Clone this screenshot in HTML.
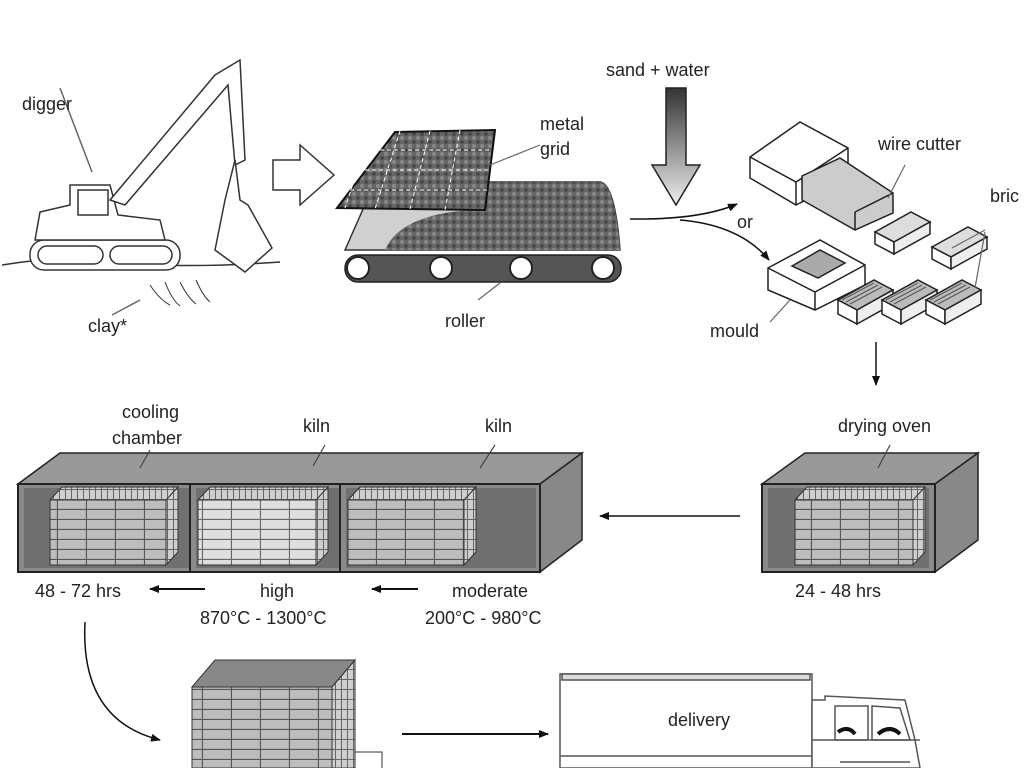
<!DOCTYPE html>
<html><head><meta charset="utf-8"><style>
html,body{margin:0;padding:0;background:#fff;}
svg{display:block;}
text{font-family:"Liberation Sans",sans-serif;font-size:18px;fill:#222;}
</style></head><body>
<svg width="1024" height="768" viewBox="0 0 1024 768" xmlns="http://www.w3.org/2000/svg">
<defs>
<pattern id="brk" width="29" height="10" patternUnits="userSpaceOnUse">
<rect width="29" height="10" fill="#bdbdbd"/><path d="M0 9.5H29M28.5 0V10" stroke="#555" stroke-width="1.2"/>
</pattern>
<pattern id="brkl" width="29" height="10" patternUnits="userSpaceOnUse">
<rect width="29" height="10" fill="#dedede"/><path d="M0 9.5H29M28.5 0V10" stroke="#666" stroke-width="1.2"/>
</pattern>
<pattern id="side" width="6" height="10" patternUnits="userSpaceOnUse">
<rect width="6" height="10" fill="#cfcfcf"/><path d="M0 9.5H6M5.5 0V10" stroke="#666" stroke-width="1"/>
</pattern>
<pattern id="gravel" width="8" height="8" patternUnits="userSpaceOnUse">
<rect width="8" height="8" fill="#666"/><circle cx="2" cy="2" r="2" fill="#888"/><circle cx="6" cy="6" r="1.8" fill="#444"/>
</pattern>
<linearGradient id="ag" x1="0" y1="0" x2="0" y2="1"><stop offset="0" stop-color="#333"/><stop offset="1" stop-color="#eee"/></linearGradient>
<marker id="ah" markerWidth="10" markerHeight="8" refX="9" refY="4" orient="auto" markerUnits="userSpaceOnUse"><path d="M0 0L10 4L0 8z" fill="#111"/></marker>
<g id="brick" stroke="#222" stroke-width="1.5">
<path d="M0 0 L36 -20 L55 -10 L19 10Z" fill="#ddd"/>
<path d="M0 0 L19 10 L19 22 L0 12Z" fill="#fff"/>
<path d="M19 10 L55 -10 L55 2 L19 22Z" fill="#eee"/>
</g>
<g id="mbrick" stroke="#222" stroke-width="1.5">
<path d="M0 0 L36 -20 L55 -10 L19 10Z" fill="#bbb"/>
<path d="M4 0 L36 -17 M8 2 L40 -15 M12 4 L44 -13" stroke="#555" stroke-width="1" fill="none"/>
<path d="M0 0 L19 10 L19 24 L0 14Z" fill="#fff"/>
<path d="M19 10 L55 -10 L55 4 L19 24Z" fill="#eee"/>
</g>
</defs>

<!-- excavator -->
<g fill="#fff" stroke="#333" stroke-width="1.5">
<path d="M2 265 Q60 255 120 262 T280 262" fill="none"/>
<rect x="30" y="240" width="150" height="30" rx="14"/>
<rect x="38" y="246" width="65" height="18" rx="9"/>
<rect x="110" y="246" width="62" height="18" rx="9"/>
<path d="M35 240 L40 212 L70 205 L70 185 L110 185 L118 215 L160 220 L165 240Z"/>
<rect x="78" y="190" width="30" height="25"/>
<path d="M110 200 L215 75 L240 60 L245 160 L235 165 L228 85 L125 205Z"/>
<path d="M235 160 L240 200 L248 205 L272 248 L245 272 L215 250 L225 200Z"/>
<path d="M150 285 Q160 300 170 305 M165 282 Q172 300 180 306 M180 282 Q188 298 196 304 M196 280 Q203 296 210 302" fill="none" stroke-width="1"/>
<path d="M60 88 L92 172 M112 315 L140 300" fill="none" stroke="#666"/>
</g>
<text x="22" y="110">digger</text>
<text x="88" y="332">clay*</text>

<!-- outline arrow -->
<path d="M273 160 H300 V145 L334 175 L300 205 V190 H273Z" fill="#fff" stroke="#333" stroke-width="1.5"/>

<!-- conveyor -->
<path d="M375 182 L600 182 Q615 184 620 250 L345 250 Z" fill="#d0d0d0" stroke="#333" stroke-width="1.5"/>
<path d="M405 182 L600 182 Q615 184 620 250 L385 250 Q400 215 470 210Z" fill="url(#gravel)"/>
<rect x="345" y="255" width="276" height="27" rx="13" fill="#555" stroke="#222" stroke-width="1.5"/>
<g fill="#fff" stroke="#222" stroke-width="2">
<circle cx="358" cy="268" r="11"/><circle cx="441" cy="268" r="11"/><circle cx="521" cy="268" r="11"/><circle cx="603" cy="268" r="11"/>
</g>
<path d="M337 208 L395 132 L495 130 L485 210Z" fill="url(#gravel)" stroke="#111" stroke-width="2"/>
<path d="M350 190 H488 M365 170 H490 M380 150 H492 M370 132 L345 208 M400 131 L375 209 M430 131 L410 209 M460 130 L445 210" stroke="#fff" stroke-width="1" stroke-dasharray="4 3"/>
<path d="M490 165 L540 145 M478 300 L500 283" stroke="#666" stroke-width="1.2"/>
<text x="540" y="130">metal</text><text x="540" y="155">grid</text>
<text x="445" y="327">roller</text>

<!-- sand + water -->
<text x="606" y="76">sand + water</text>
<path d="M666 88 H686 V165 H700 L676 205 L652 165 H666Z" fill="url(#ag)" stroke="#222" stroke-width="1.5"/>

<!-- split arrows -->
<path d="M630 219 Q700 220 737 204" fill="none" stroke="#111" stroke-width="1.5" marker-end="url(#ah)"/>
<path d="M680 220 Q740 225 769 260" fill="none" stroke="#111" stroke-width="1.5" marker-end="url(#ah)"/>
<text x="737" y="228">or</text>

<!-- wire cutter -->
<g fill="#fff" stroke="#222" stroke-width="1.5">
<path d="M750 157 L800 122 L848 148 L848 178 L796 205 L750 178Z"/>
<path d="M750 157 L796 182 L848 148 M796 182 V205" fill="none"/>
<path d="M802 176 L840 158 L893 193 L893 213 L855 230 L802 200Z" fill="#ccc"/>
<path d="M855 212 L893 193 M855 212 V230" fill="none"/>
<path d="M768 268 L820 240 L865 265 L865 285 L815 310 L768 290Z"/>
<path d="M768 268 L815 292 L865 265 M815 292 V310" fill="none"/>
<path d="M792 266 L820 250 L845 263 L818 278Z" fill="#aaa"/>
</g>
<use href="#brick" x="875" y="232"/>
<use href="#brick" x="932" y="247"/>
<use href="#mbrick" x="838" y="300"/>
<use href="#mbrick" x="882" y="300"/>
<use href="#mbrick" x="926" y="300"/>
<path d="M888 198 L905 165 M790 300 L770 322 M985 230 L952 248 M985 232 L975 288" stroke="#666" stroke-width="1.2" fill="none"/>
<text x="878" y="150">wire cutter</text>
<text x="990" y="202">bric</text>
<text x="710" y="337">mould</text>

<path d="M876 342 V385" stroke="#111" stroke-width="1.5" marker-end="url(#ah)"/>

<!-- kiln -->
<path d="M18 484 L60 453 L582 453 L540 484Z" fill="#999" stroke="#222" stroke-width="1.5"/>
<path d="M540 484 L582 453 L582 540 L540 572Z" fill="#888" stroke="#222" stroke-width="1.5"/>
<rect x="18" y="484" width="522" height="88" fill="#8a8a8a" stroke="#222" stroke-width="2"/>
<g fill="#707070"><rect x="24" y="488" width="166" height="80"/><rect x="196" y="488" width="144" height="80"/><rect x="346" y="488" width="190" height="80"/></g>
<path d="M190 484V572 M340 484V572" stroke="#222" stroke-width="2"/>
<rect x="50" y="500" width="116" height="65" fill="url(#brk)" stroke="#333"/>
<path d="M50 500 L62 487 L178 487 L166 500Z M166 500 L178 487 L178 552 L166 565Z" fill="url(#side)" stroke="#333"/>
<rect x="198" y="500" width="118" height="65" fill="url(#brkl)" stroke="#333"/>
<path d="M198 500 L210 487 L328 487 L316 500Z M316 500 L328 487 L328 552 L316 565Z" fill="url(#side)" stroke="#333"/>
<rect x="348" y="500" width="116" height="65" fill="url(#brk)" stroke="#333"/>
<path d="M348 500 L360 487 L476 487 L464 500Z M464 500 L476 487 L476 552 L464 565Z" fill="url(#side)" stroke="#333"/>
<path d="M140 468 L150 450 M313 466 L325 445 M480 468 L495 445" stroke="#444" stroke-width="1.2"/>
<text x="122" y="418">cooling</text><text x="112" y="444">chamber</text>
<text x="303" y="432">kiln</text><text x="485" y="432">kiln</text>

<!-- drying oven -->
<path d="M762 484 L805 453 L978 453 L935 484Z" fill="#999" stroke="#222" stroke-width="1.5"/>
<path d="M935 484 L978 453 L978 540 L935 572Z" fill="#888" stroke="#222" stroke-width="1.5"/>
<rect x="762" y="484" width="173" height="88" fill="#8a8a8a" stroke="#222" stroke-width="2"/>
<rect x="768" y="488" width="161" height="80" fill="#707070"/>
<rect x="795" y="500" width="118" height="65" fill="url(#brk)" stroke="#333"/>
<path d="M795 500 L807 487 L925 487 L913 500Z M913 500 L925 487 L925 552 L913 565Z" fill="url(#side)" stroke="#333"/>
<path d="M878 468 L890 445" stroke="#444" stroke-width="1.2"/>
<text x="838" y="432">drying oven</text>
<text x="795" y="597">24 - 48 hrs</text>

<path d="M740 516 H600" stroke="#111" stroke-width="1.5" marker-end="url(#ah)"/>

<text x="35" y="597">48 - 72 hrs</text>
<path d="M205 589 H150" stroke="#111" stroke-width="2" marker-end="url(#ah)"/>
<text x="260" y="597">high</text>
<text x="200" y="624">870°C - 1300°C</text>
<path d="M418 589 H372" stroke="#111" stroke-width="2" marker-end="url(#ah)"/>
<text x="452" y="597">moderate</text>
<text x="425" y="624">200°C - 980°C</text>

<path d="M85 622 Q80 720 160 740" fill="none" stroke="#111" stroke-width="1.5" marker-end="url(#ah)"/>

<!-- final stack -->
<rect x="192" y="687" width="140" height="81" fill="url(#brk)" stroke="#333"/>
<path d="M192 687 L215 660 L355 660 L332 687Z" fill="#888" stroke="#333"/>
<path d="M332 687 L355 660 L355 768 L332 768Z" fill="url(#side)" stroke="#333"/>
<path d="M355 752 H382 V768" fill="none" stroke="#333"/>

<path d="M402 734 H548" stroke="#111" stroke-width="2" marker-end="url(#ah)"/>

<!-- truck -->
<g fill="#fff" stroke="#555" stroke-width="1.5">
<rect x="560" y="674" width="252" height="94"/>
<path d="M560 756 H812" />
<path d="M562 674 H810 V680 H562Z" fill="#ddd"/>
<path d="M812 740 V700 L825 700 L825 696 L905 700 L915 740 L920 768 L812 768Z"/>
<path d="M835 706 H868 V740 H835Z M872 706 L900 708 L910 740 L872 740Z"/>
<path d="M812 740 H920 M840 762 H910" fill="none"/>
</g>
<path d="M838 732 Q848 725 855 734 M878 734 Q890 724 900 734" stroke="#111" stroke-width="4" fill="none"/>
<text x="668" y="726">delivery</text>
</svg>
</body></html>
